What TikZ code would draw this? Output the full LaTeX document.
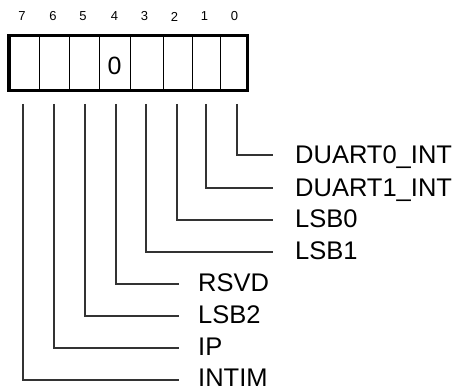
\documentclass[tikz,border=0pt]{standalone}
\usepackage{fontspec}
\setmainfont{Liberation Sans}
\begin{document}
\begin{tikzpicture}[x=1pt,y=-1pt,
  bitnum/.style={inner sep=0pt, font=\fontsize{13}{15}\selectfont},
  lbl/.style={anchor=west, inner sep=0pt, text height=17.5pt, text depth=0pt, font=\fontsize{25.5}{30}\selectfont},
  conn/.style={line width=1.1pt, draw=black!80},
  divider/.style={line width=1pt}]
\useasboundingbox (0,0) rectangle (461,390);
% bit numbers
\foreach \b/\x in {7/22,6/53,5/83,4/114.5,3/144.5,2/174.5,1/204.5,0/234.5}
  \node[bitnum] (b\b) at (\x,16.5) {\b};
% register box
\draw[line width=3.5pt] (9,35.5) rectangle (247.5,90.5);
\foreach \x in {39,69,99,130,163,192,220}
  \draw[divider] (\x,35.5) -- (\x,90.5);
\node[inner sep=0pt, font=\fontsize{25}{30}\selectfont] (zero) at (114.5,66) {0};
% connector starts
\foreach \b/\x in {7/23,6/54,5/85,4/116,3/146,2/177,1/206,0/237}
  \coordinate (s\b) at (\x,104);
% labels
\node[lbl] (l0) at (295,155) {DUART0\_INT};
\node[lbl] (l1) at (295,187.5) {DUART1\_INT};
\node[lbl] (l2) at (295,219) {LSB0};
\node[lbl] (l3) at (295,251) {LSB1};
\node[lbl] (l4) at (198,283) {RSVD};
\node[lbl] (l5) at (198,315) {LSB2};
\node[lbl] (l6) at (198,347) {IP};
\node[lbl] (l7) at (198,377.5) {INTIM};
\foreach \b/\y in {0/155,1/188,2/220,3/252}
  \draw[conn] (s\b) |- (273,\y) coordinate (e\b);
\foreach \b/\y in {4/284,5/316,6/348,7/380}
  \draw[conn] (s\b) |- (179,\y) coordinate (e\b);
\end{tikzpicture}
\end{document}
